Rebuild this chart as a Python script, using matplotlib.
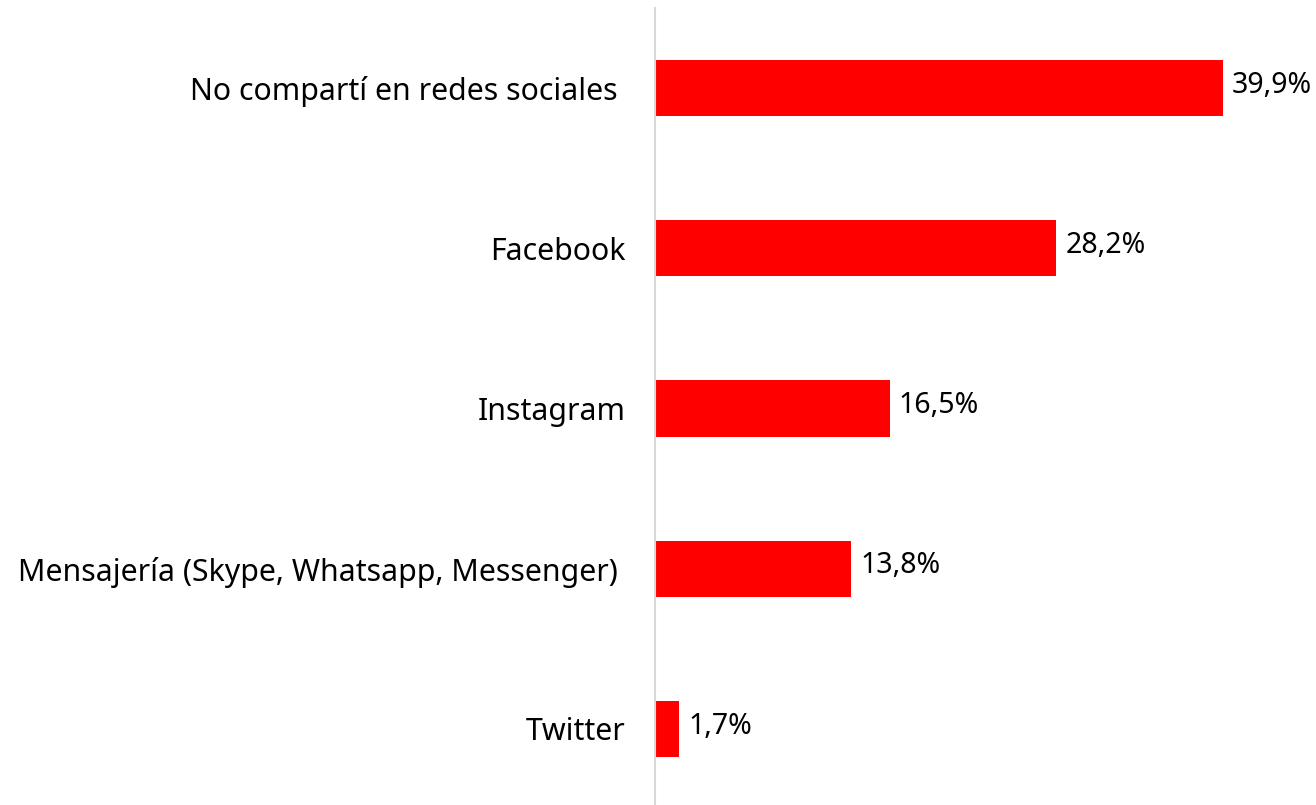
import matplotlib
matplotlib.use("Agg")
import matplotlib.pyplot as plt

categories = ["No compartí en redes sociales ", "Facebook", "Instagram",
              "Mensajería (Skype, Whatsapp, Messenger) ", "Twitter"]
values = [39.9, 28.2, 16.5, 13.8, 1.7]
value_labels = ["39,9%", "28,2%", "16,5%", "13,8%", "1,7%"]

plt.rcParams['font.family'] = ['Noto Sans', 'DejaVu Sans']

W, H = 1316, 805
fig = plt.figure(figsize=(W / 100, H / 100), dpi=100)
left = 655 / W
ax = fig.add_axes([left, (805 - 809) / H, 1 - left, 801 / H])

y = list(range(len(categories)))
ax.barh(y, values, height=0.35, color="#FF0000")
ax.set_ylim(len(categories) - 0.5, -0.5)
ax.set_xlim(0, (W - 655) / ((1223 - 655) / 39.9))

ax.set_yticks(y)
ax.set_yticklabels(categories, fontsize=21.8, color="#000000")
ax.tick_params(axis="y", length=0, pad=21)
ax.set_xticks([])
for s in ["top", "right", "bottom"]:
    ax.spines[s].set_visible(False)
ax.spines["left"].set_color("#D9D9D9")
ax.spines["left"].set_linewidth(1.5)

for yi, v, lab in zip(y, values, value_labels):
    ax.annotate(lab, xy=(v, yi), xytext=(6.5, 2), textcoords="offset points",
                ha="left", va="center", fontsize=20.5, color="#000000")

fig.savefig("out.png", dpi=100)
